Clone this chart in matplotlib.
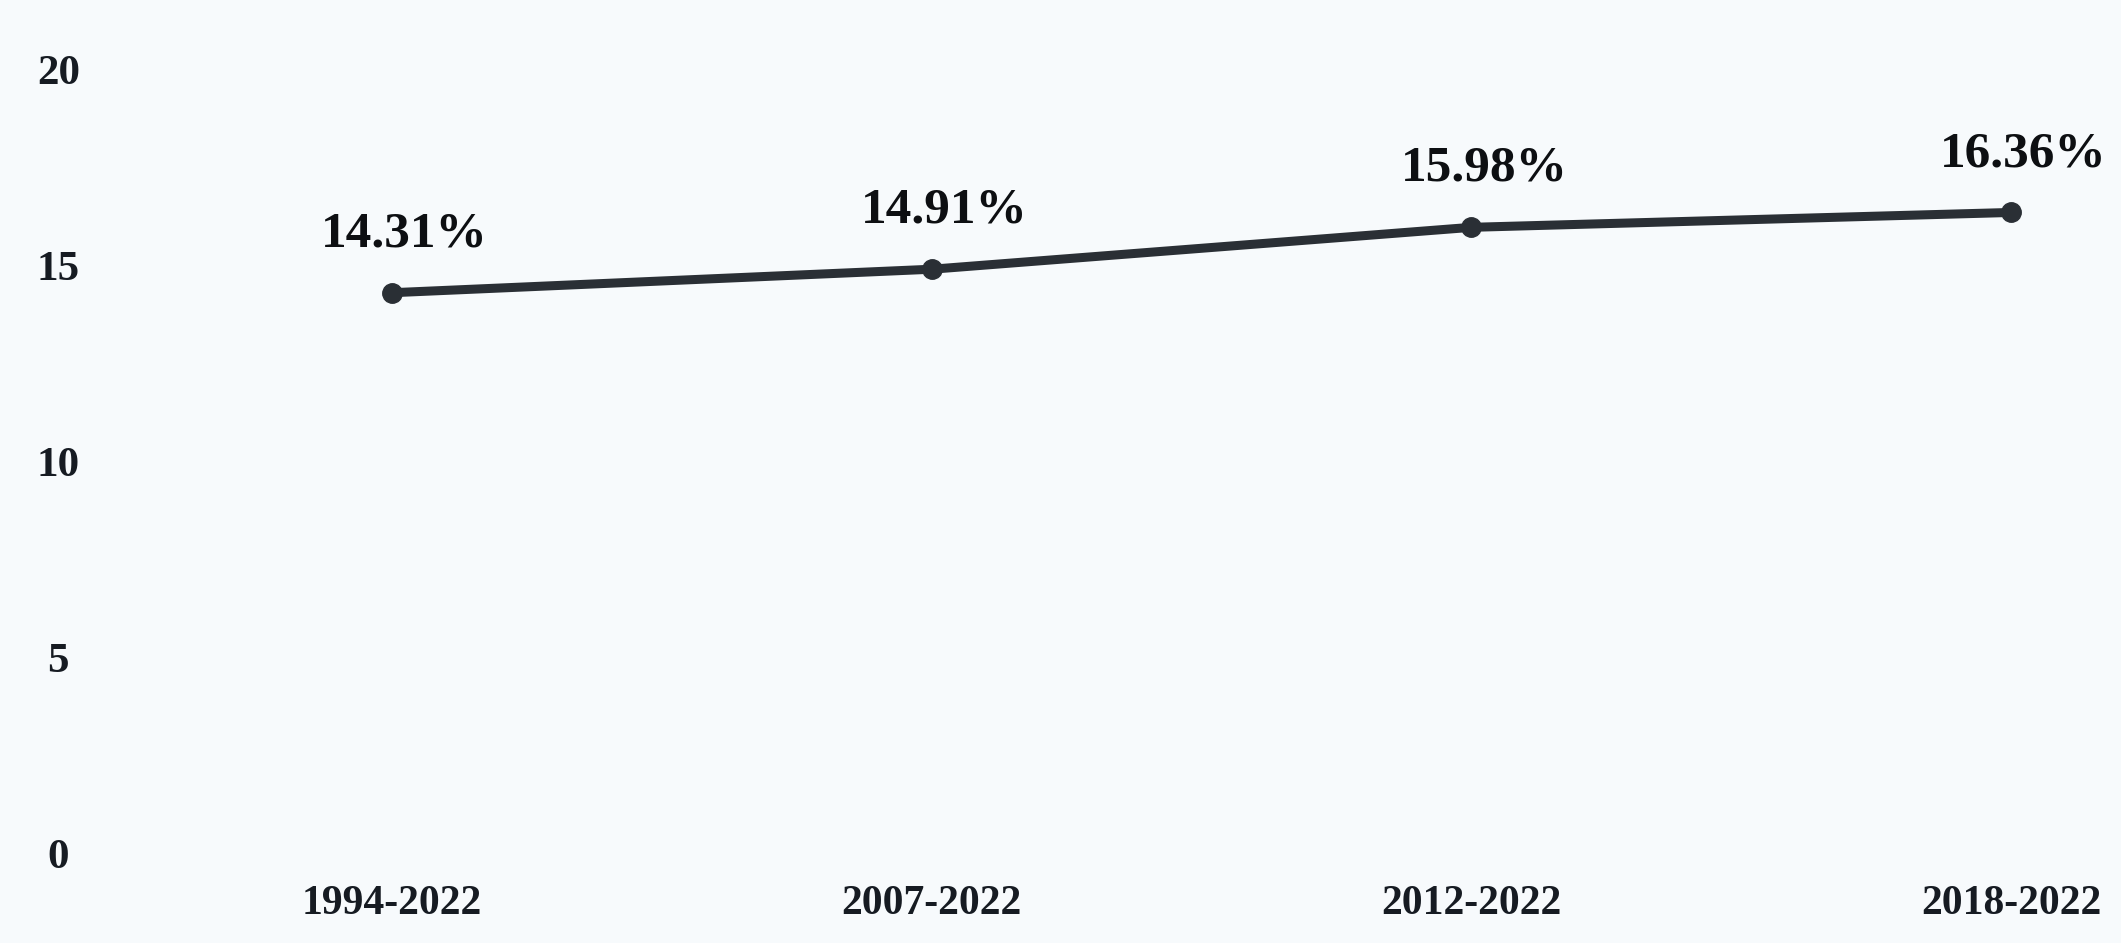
import matplotlib
matplotlib.use("Agg")
import matplotlib.pyplot as plt

periods = ["1994-2022", "2007-2022", "2012-2022", "2018-2022"]
rates = [14.31, 14.91, 15.98, 16.36]
yticks = [0, 5, 10, 15, 20]

bg = "#f7fafc"
line_color = "#2a2f35"
text_color = "#161b22"

plt.rcParams["font.family"] = ["Liberation Serif", "DejaVu Serif"]
plt.rcParams["font.weight"] = "bold"

fig = plt.figure(figsize=(21.21, 9.43), dpi=100, facecolor=bg)
ax = fig.add_axes([0.0707, 0.0774, 0.9293, 0.8908], facecolor=bg)

x = list(range(len(periods)))
ax.plot(x, rates, color=line_color, lw=6.5, marker="o", ms=14,
        solid_capstyle="round", zorder=3)

for xi, v in zip(x, rates):
    ax.annotate(f"{v:.2f}%", (xi, v), xytext=(9, 42), textcoords="offset points",
                ha="center", va="center", fontsize=37, fontweight="bold",
                color="#0d0f12")

ax.set_xlim(-0.4484, 3.2036)
ax.set_ylim(-0.434, 21.02)

ax.set_xticks(x)
ax.set_xticklabels(periods, fontsize=30, fontweight="bold", color=text_color)
ax.set_yticks(yticks)
ax.set_yticklabels([str(t) for t in yticks], fontsize=31, fontweight="bold",
                   color=text_color)
for lab in ax.get_yticklabels():
    lab.set_horizontalalignment("center")
ax.tick_params(axis="y", length=0, pad=66)
ax.tick_params(axis="x", length=0, pad=11)

for s in ax.spines.values():
    s.set_visible(False)

fig.savefig("out.png", dpi=100, facecolor=bg)
